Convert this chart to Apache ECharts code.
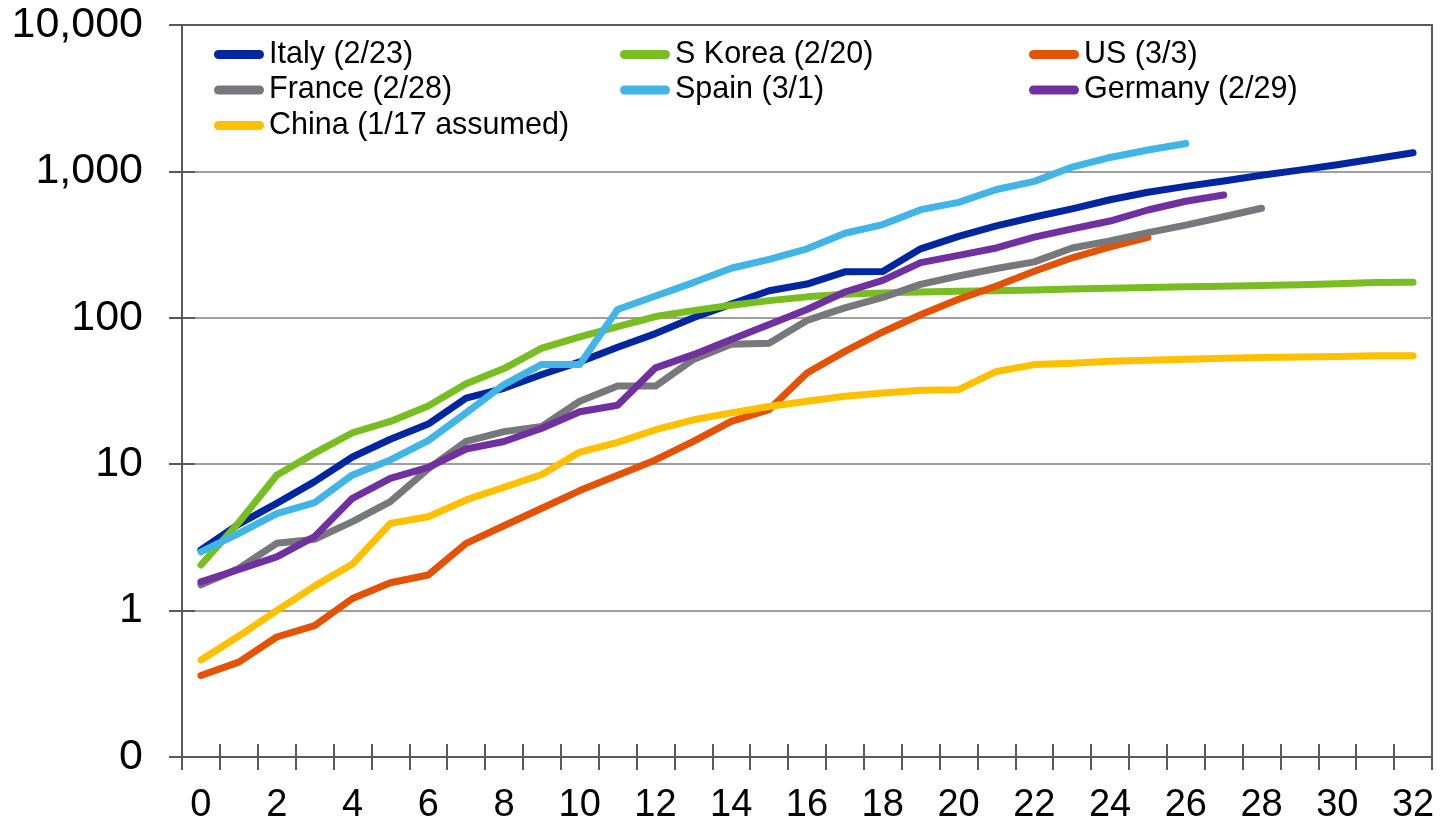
<!DOCTYPE html>
<html>
<head>
<meta charset="utf-8">
<script src="https://cdn.jsdelivr.net/npm/echarts@6/dist/echarts.min.js"></script>
<style>
  html, body { margin: 0; padding: 0; background: #ffffff; }
  #chart { width: 1440px; height: 828px; }
</style>
</head>
<body>
<div id="chart"></div>
<script>
// Days since the outbreak start date (x axis categories)
const days = [0, 1, 2, 3, 4, 5, 6, 7, 8, 9, 10, 11, 12, 13, 14, 15, 16,
              17, 18, 19, 20, 21, 22, 23, 24, 25, 26, 27, 28, 29, 30, 31, 32];

// Labels drawn on the log axis, one per decade from 0.1 up to 10,000
const yTickLabels = ['0', '1', '10', '100', '1,000', '10,000'];

// Series names (legend text)
const names = ['Italy (2/23)', 'S Korea (2/20)', 'US (3/3)', 'France (2/28)',
               'Spain (3/1)', 'Germany (2/29)', 'China (1/17 assumed)'];

// Cumulative counts by day
const italy = [2.6, 3.9, 5.4, 7.6, 11.2, 14.8, 18.8, 28.3, 33, 41, 50, 63, 78, 100, 124, 153, 170,
               206, 207, 296, 360, 425, 488, 555, 640, 720, 790, 860, 940, 1020, 1110, 1220, 1340];
const sKorea = [2.05, 4.0, 8.4, 11.9, 16.4, 19.6, 25, 35.5, 45, 62, 74, 87, 102, 112, 122, 131, 139,
                145, 148, 150, 152, 153, 155, 157, 159, 161, 163, 164, 166, 168, 171, 174, 175];
const us = [0.36, 0.445, 0.66, 0.79, 1.21, 1.55, 1.75, 2.88, 3.8, 5.0, 6.6, 8.4, 10.7, 14.3, 19.6, 23.6, 42,
            59, 80, 105, 134, 165, 208, 257, 305, 355];
const france = [1.5, 1.94, 2.88, 3.07, 4.05, 5.55, 9.3, 14.3, 16.7, 18.1, 26.9, 34.2, 34.2, 52, 66, 67, 96,
                117, 138, 169, 193, 217, 241, 300, 335, 382, 430, 490, 560];
const spain = [2.52, 3.37, 4.6, 5.46, 8.45, 10.7, 14.5, 22.4, 35, 48, 48, 114, 141, 174, 218, 251, 296,
               378, 433, 548, 614, 752, 855, 1070, 1245, 1400, 1550];
const germany = [1.57, 1.91, 2.33, 3.2, 5.85, 8.0, 9.5, 12.7, 14.3, 17.6, 22.8, 25.3, 45.5, 56, 71, 90, 114,
                 150, 180, 238, 267, 300, 356, 405, 458, 545, 625, 690];
const china = [0.46, 0.67, 1.0, 1.47, 2.08, 3.94, 4.38, 5.7, 6.96, 8.5, 12.1, 14.1, 17.2, 20.1, 22.4, 24.8, 26.9,
               29.1, 30.6, 32, 32.3, 43, 47.9, 49, 50.5, 51.3, 52.2, 53, 53.5, 54, 54.5, 55, 55];

const colors = ['#0027A0', '#78BE20', '#E35205', '#76787B', '#41B6E6', '#7030A0', '#FFC000'];
const seriesData = [italy, sKorea, us, france, spain, germany, china];

const FONT = "'Liberation Sans', Arial, Helvetica, sans-serif";
const AXIS = '#595959';
const GRIDLINE = '#9f9f9f';
const CAPSULE = 'path://M4.5,0L45.5,0A4.5,4.5,0,0,1,45.5,9L4.5,9A4.5,4.5,0,0,1,4.5,0Z';

const chart = echarts.init(document.getElementById('chart'), null, { renderer: 'canvas' });

const legendBase = {
  orient: 'vertical',
  top: 39,
  itemWidth: 50,
  itemHeight: 9,
  itemGap: 4.5,
  icon: CAPSULE,
  selectedMode: false,
  padding: 0,
  textStyle: { fontSize: 30.5, color: '#000', fontFamily: FONT, lineHeight: 30 }
};

const tickStyle = { color: AXIS, width: 2 };
const plotRect = { left: 182, right: 8, top: 25, bottom: 71 };

const option = {
  animation: false,
  backgroundColor: '#ffffff',
  grid: [
    Object.assign({ show: true, borderColor: AXIS, borderWidth: 2, backgroundColor: 'transparent' }, plotRect),
    // overlay grid with the same rectangle: carries the inward half of the crossing ticks
    Object.assign({ show: false }, plotRect)
  ],
  legend: [
    Object.assign({}, legendBase, { left: 214, data: [names[0], names[3], names[6]] }),
    Object.assign({}, legendBase, { left: 620, data: [names[1], names[4]] }),
    Object.assign({}, legendBase, { left: 1029, data: [names[2], names[5]] })
  ],
  xAxis: [
    {
      gridIndex: 0, type: 'category', data: days, position: 'bottom', boundaryGap: true,
      axisLine: { show: true, onZero: false, lineStyle: tickStyle },
      axisTick: { show: true, interval: 0, length: 13, lineStyle: tickStyle },
      axisLabel: { interval: 1, margin: 30, fontSize: 38, color: '#000', fontFamily: FONT },
      splitLine: { show: false }
    },
    {
      gridIndex: 1, type: 'category', data: days, position: 'bottom', boundaryGap: true,
      axisLine: { show: false, onZero: false },
      axisTick: { show: true, inside: true, interval: 0, length: 13, lineStyle: tickStyle },
      axisLabel: { show: false },
      splitLine: { show: false }
    }
  ],
  yAxis: [
    {
      gridIndex: 0, type: 'log', logBase: 10, min: 0.1, max: 10000, position: 'left',
      axisLine: { show: true, onZero: false, lineStyle: tickStyle },
      axisTick: { show: true, length: 13, lineStyle: tickStyle },
      axisLabel: {
        margin: 39, fontSize: 43, color: '#000', fontFamily: FONT,
        formatter: function (v) {
          return yTickLabels[Math.round(Math.log10(v)) + 1];
        }
      },
      splitLine: { show: true, showMinLine: false, showMaxLine: false,
                   lineStyle: { color: GRIDLINE, width: 2 } }
    },
    {
      gridIndex: 1, type: 'log', logBase: 10, min: 0.1, max: 10000, position: 'left',
      axisLine: { show: false, onZero: false },
      axisTick: { show: true, inside: true, length: 13, lineStyle: tickStyle },
      axisLabel: { show: false },
      splitLine: { show: false }
    }
  ],
  series: names.map(function (name, k) {
    return {
      name: name,
      type: 'line',
      xAxisIndex: 0,
      yAxisIndex: 0,
      data: seriesData[k],
      showSymbol: false,
      symbol: 'none',
      smooth: false,
      color: colors[k],
      itemStyle: { color: colors[k] },
      lineStyle: { width: 7, color: colors[k], cap: 'round', join: 'round' },
      emphasis: { disabled: true },
      z: 2 + k
    };
  }).concat([{
    // invisible copy giving the overlay axes a data extent
    name: 'tick-anchor', type: 'line', xAxisIndex: 1, yAxisIndex: 1,
    data: china, showSymbol: false, symbol: 'none', silent: true,
    lineStyle: { opacity: 0 }, z: 0
  }])
};

chart.setOption(option);
</script>
</body>
</html>
